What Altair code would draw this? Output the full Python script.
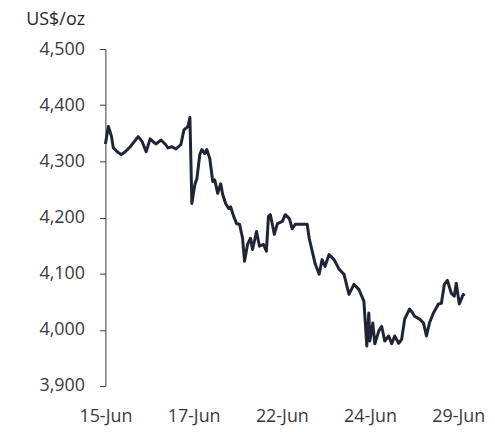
import altair as alt
import pandas as pd

# time position in label units (0 = 15-Jun, 1 = 17-Jun, 2 = 22-Jun, 3 = 24-Jun, 4 = 29-Jun)
t = [
    0.000, 0.034, 0.068, 0.090, 0.135, 0.180, 0.225, 0.282, 0.327, 0.372,
    0.417, 0.462, 0.507, 0.541, 0.575, 0.631, 0.676, 0.710, 0.755, 0.800,
    0.856, 0.890, 0.935, 0.958, 0.980, 1.014, 1.037, 1.070, 1.093, 1.127,
    1.149, 1.183, 1.217, 1.239, 1.273, 1.307, 1.330, 1.363, 1.397, 1.420,
    1.454, 1.487, 1.521, 1.555, 1.577, 1.611, 1.645, 1.668, 1.713, 1.746,
    1.792, 1.825, 1.848, 1.870, 1.915, 1.949, 2.006, 2.039, 2.085, 2.118,
    2.152, 2.208, 2.287, 2.310, 2.344, 2.377, 2.423, 2.456, 2.490, 2.535,
    2.592, 2.648, 2.704, 2.761, 2.817, 2.873, 2.930, 2.963, 2.986, 2.997,
    3.031, 3.054, 3.099, 3.132, 3.166, 3.211, 3.245, 3.279, 3.324, 3.358,
    3.392, 3.448, 3.482, 3.504, 3.561, 3.606, 3.639, 3.673, 3.718, 3.775,
    3.808, 3.842, 3.876, 3.921, 3.955, 3.977, 4.011, 4.056, 4.068,
]

price = [
    4331, 4362, 4345, 4324, 4317, 4312, 4317, 4326, 4335, 4344,
    4335, 4317, 4340, 4335, 4331, 4338, 4331, 4324, 4326, 4322,
    4330, 4356, 4362, 4378, 4225, 4259, 4269, 4312, 4321, 4314,
    4321, 4305, 4264, 4267, 4243, 4260, 4241, 4225, 4216, 4219,
    4202, 4189, 4188, 4163, 4122, 4152, 4163, 4143, 4175, 4149,
    4152, 4140, 4202, 4205, 4170, 4189, 4193, 4205, 4198, 4180,
    4188, 4188, 4188, 4163, 4140, 4118, 4099, 4125, 4113, 4134,
    4125, 4108, 4099, 4063, 4081, 4072, 4051, 3971, 4030, 3980,
    4012, 3975, 3998, 4006, 3980, 3989, 3975, 3989, 3976, 3983,
    4019, 4037, 4030, 4024, 4019, 4012, 3989, 4012, 4030, 4046,
    4047, 4081, 4088, 4065, 4060, 4083, 4046, 4063, 4060,
]

tick_positions = [0, 1, 2, 3, 4]
tick_labels = ["15-Jun", "17-Jun", "22-Jun", "24-Jun", "29-Jun"]
y_ticks = [3900, 4000, 4100, 4200, 4300, 4400, 4500]

df = pd.DataFrame({"t": t, "price": price})
label_expr = "[" + ",".join(f"'{l}'" for l in tick_labels) + "][round(datum.value)]"

FONT = "Open Sans"
TXT = "#3a3a3a"

chart = alt.Chart(df).mark_line(
    color="#1f2535", strokeWidth=3, strokeJoin="round"
).encode(
    x=alt.X(
        "t:Q",
        scale=alt.Scale(domain=[0, 4.1], nice=False, zero=False),
        axis=alt.Axis(
            values=tick_positions, labelExpr=label_expr, title=None,
            domain=False, ticks=False, tickSize=0, grid=False,
            labelPadding=22, labelFont=FONT, labelFontSize=18,
            labelColor=TXT, labelFlush=False,
        ),
    ),
    y=alt.Y(
        "price:Q",
        scale=alt.Scale(domain=[3900, 4500], nice=False, zero=False),
        axis=alt.Axis(
            values=y_ticks, format=",.0f", title="US$/oz", titleAngle=0,
            titleAlign="right", titleBaseline="alphabetic",
            titleX=-21, titleY=-25, titleFont=FONT, titleFontSize=18,
            titleFontWeight="normal", titleColor="#262626",
            grid=False, domainColor=TXT, tickColor=TXT, tickSize=6,
            labelPadding=15, labelFont=FONT, labelFontSize=18,
            labelColor=TXT,
        ),
    ),
).properties(
    width=364, height=339,
    autosize=alt.AutoSizeParams(type="none"),
    padding={"left": 98, "top": 40, "right": 20, "bottom": 40},
).configure_view(stroke=None)

chart.save("out.html", embed_options={"renderer": "svg", "actions": False})
